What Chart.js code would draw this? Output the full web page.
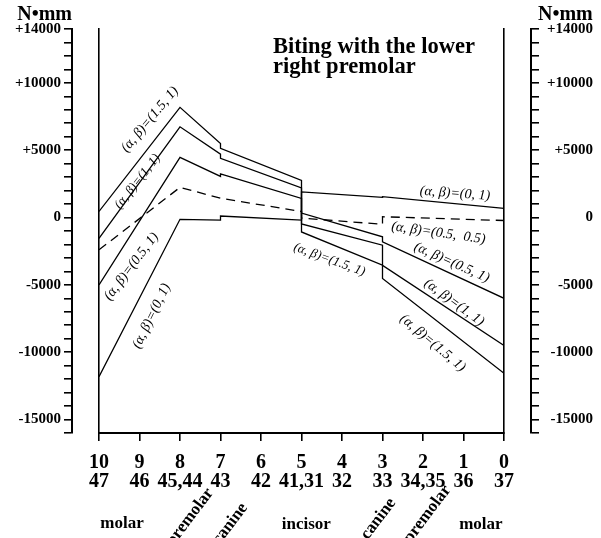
<!DOCTYPE html>
<html>
<head>
<meta charset="utf-8">
<script src="https://cdn.jsdelivr.net/npm/chart.js@4"></script>
<style>
  html, body { margin: 0; padding: 0; background: #fff; }
  #wrap { width: 601px; height: 538px; }
</style>
</head>
<body>
<div id="wrap"><canvas id="chart" width="601" height="538"></canvas></div>
<script>
// Bending moment along the lower arch (N·mm), biting with the lower right premolar
// x = tooth position 10 (right molar) ... 0 (left molar); steps at 7, 5 and 3
const positions = [10, 8, 7, 7, 5, 5, 3, 3, 0];

// one array per (alpha, beta) case
const case15_1 = [450, 8180, 5500, 5140, 2750, -1070, -3530, -4520, -11570];
const case10_1 = [-1550, 6740, 4710, 4390, 2200, -480, -2050, -3550, -9500];
const case05_1 = [-5000, 4470, 3050, 3250, 1420, 330, -1430, -1800, -6000];
const case05_05 = [-2400, 2240, 1430, 1430, 450, -40, -500, 60, -220];
const case00_1 = [-11820, -130, -190, 110, -190, 1900, 1500, 1550, 680];

// axis text
const toothNames = ["37", "36", "34,35", "33", "32", "41,31", "42", "43", "45,44", "46", "47"]; // index = position
const yLabels = { "14000": "+14000", "10000": "+10000", "5000": "+5000", "0": "0",
                  "-5000": "-5000", "-10000": "-10000", "-15000": "-15000" };
const regionNames = ["molar", "premolar", "canine", "incisor", "canine", "premolar", "molar"];
const titleLines = ["Biting with the lower", "right premolar"];
const unitLabel = "N\u2022mm";

const pts = (vals) => positions.map((p, i) => ({ x: p, y: vals[i] }));
const serif = '"Liberation Serif", "Times New Roman", serif';

// where the case labels sit (data coords) and their tilt
const caseNotes = [
  { t: "(\u03b1, \u03b2)=(1.5, 1)", x: 8.74, y: 7280, a: -50, s: 14 },
  { t: "(\u03b1, \u03b2)=(1, 1)", x: 9.05, y: 2670, a: -52, s: 13 },
  { t: "(\u03b1, \u03b2)=(0.5, 1)", x: 9.2, y: -3640, a: -53, s: 14 },
  { t: "(\u03b1, \u03b2)=(0, 1)", x: 8.7, y: -7310, a: -64, s: 14 },
  { t: "(\u03b1, \u03b2)=(1.5, 1)", x: 4.31, y: -3120, a: 20, s: 13 },
  { t: "(\u03b1, \u03b2)=(0, 1)", x: 1.21, y: 1780, a: 4, s: 14 },
  { t: "(\u03b1, \u03b2)=(0.5,  0.5)", x: 1.62, y: -1150, a: 8, s: 14 },
  { t: "(\u03b1, \u03b2)=(0.5, 1)", x: 1.29, y: -3340, a: 24, s: 14 },
  { t: "(\u03b1, \u03b2)=(1, 1)", x: 1.23, y: -6310, a: 36, s: 14 },
  { t: "(\u03b1, \u03b2)=(1.5, 1)", x: 1.76, y: -9320, a: 40, s: 14 }
];
// region names under the axis: x position, offset below plot, tilt
const regionSpots = [
  { x: 9.43, dy: 91, a: 0 }, { x: 7.25, dy: 57, a: -53 }, { x: 6.41, dy: 72, a: -53 },
  { x: 4.88, dy: 92, a: 0 }, { x: 2.75, dy: 67, a: -53 }, { x: 1.39, dy: 54, a: -53 },
  { x: 0.57, dy: 92, a: 0 }
];

const overlay = {
  id: "overlay",
  afterDraw(chart) {
    const { ctx, chartArea: a, scales: { x, y } } = chart;
    ctx.save();
    ctx.fillStyle = "#000";

    // units over both y axes
    ctx.font = "bold 20px " + serif;
    ctx.textAlign = "right";
    ctx.fillText(unitLabel, chart.scales.y.right, 20);
    ctx.textAlign = "left";
    ctx.fillText(unitLabel, chart.scales.y2.left + 7, 20);

    // title inside the plot
    ctx.font = "bold 22.5px " + serif;
    titleLines.forEach((l, i) => ctx.fillText(l, a.left + 174, 53 + i * 20));

    // case labels
    caseNotes.forEach(n => {
      ctx.save();
      ctx.translate(x.getPixelForValue(n.x), y.getPixelForValue(n.y));
      ctx.rotate(n.a * Math.PI / 180);
      ctx.font = "italic " + n.s + "px " + serif;
      ctx.textAlign = "center";
      ctx.textBaseline = "middle";
      ctx.fillText(n.t, 0, 0);
      ctx.restore();
    });

    // tooth regions
    ctx.font = "bold 17px " + serif;
    regionNames.forEach((r, i) => {
      const s = regionSpots[i];
      ctx.save();
      ctx.translate(x.getPixelForValue(s.x), a.bottom + s.dy);
      ctx.rotate(s.a * Math.PI / 180);
      ctx.textAlign = s.a ? "right" : "center";
      ctx.textBaseline = "middle";
      ctx.fillText(r, 0, 0);
      ctx.restore();
    });
    ctx.restore();
  }
};

const line = (label, vals, dash) => ({
  label, data: pts(vals), borderColor: "#000", borderWidth: 1.3,
  borderDash: dash || [], pointRadius: 0, tension: 0, fill: false
});

const yRange = { min: -16000, max: 14000 };
const spacer = (position, weight) => ({
  type: "linear", position, weight, ...yRange,
  grid: { display: false }, ticks: { display: false },
  border: { display: true, color: "#000", width: 1.6 },
  afterFit: (s) => { s.width = 27; }
});
const valueAxis = (position, weight, width) => ({
  type: "linear", position, weight, ...yRange,
  grid: { drawOnChartArea: false, drawTicks: true, tickLength: 8, color: "#000", lineWidth: 1.6 },
  border: { display: true, color: "#000", width: 2 },
  ticks: {
    stepSize: 1000, autoSkip: false, padding: 3, color: "#000",
    crossAlign: position === "left" ? "near" : "far",
    font: { family: serif, size: 15, weight: "bold" },
    callback: (v) => yLabels[String(v)] || ""
  },
  afterFit: (s) => { s.width = width; }
});

new Chart(document.getElementById("chart"), {
  type: "line",
  data: {
    datasets: [
      line("(1.5, 1)", case15_1),
      line("(1, 1)", case10_1),
      line("(0.5, 1)", case05_1),
      line("(0.5, 0.5)", case05_05, [9, 6]),
      line("(0, 1)", case00_1)
    ]
  },
  options: {
    responsive: false,
    animation: false,
    layout: { padding: { top: 29, right: 8, left: 0, bottom: 0 } },
    plugins: { legend: { display: false }, tooltip: { enabled: false }, title: { display: false } },
    scales: {
      x: {
        type: "linear", reverse: true, min: 0, max: 10,
        grid: { drawOnChartArea: false, drawTicks: true, tickLength: 8, color: "#000", lineWidth: 1.6 },
        border: { display: true, color: "#000", width: 2 },
        ticks: {
          stepSize: 1, autoSkip: false, maxRotation: 0, padding: 12, color: "#000",
          font: { family: serif, size: 20, weight: "bold", lineHeight: 0.95 },
          callback: (v) => [String(v), toothNames[v]]
        },
        afterFit: (s) => { s.height = 105; }
      },
      padL: spacer("left", 0),
      y: valueAxis("left", 1, 72),
      padR: spacer("right", 0),
      y2: valueAxis("right", 1, 62)
    }
  },
  plugins: [overlay]
});
</script>
</body>
</html>
